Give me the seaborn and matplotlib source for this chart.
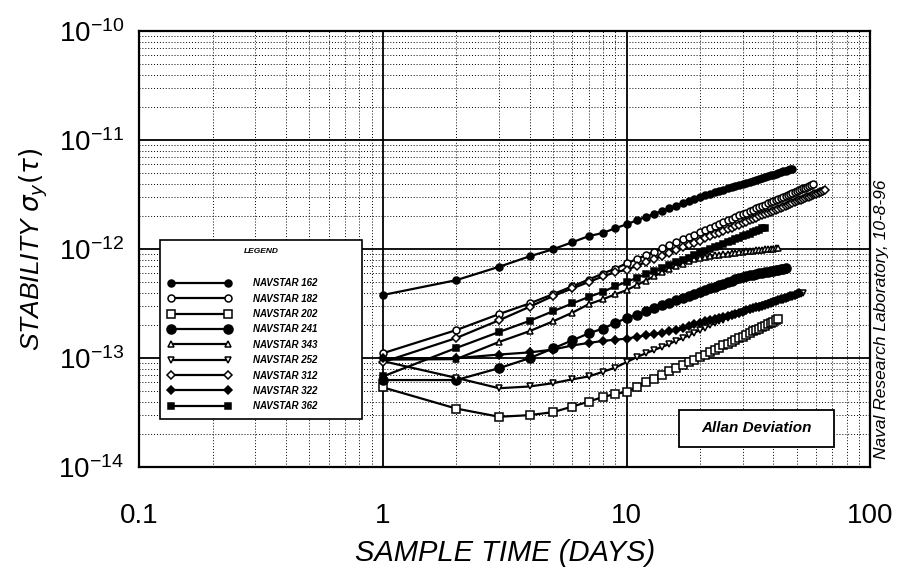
import matplotlib
matplotlib.use("Agg")
import matplotlib.pyplot as plt
from matplotlib.patches import Rectangle
import seaborn as sns
import numpy as np
from matplotlib.ticker import LogLocator, NullFormatter

# ------------------------ data (stability in units of 1e-13) ------------------------
sats = ["NAVSTAR 162", "NAVSTAR 182", "NAVSTAR 202", "NAVSTAR 241", "NAVSTAR 343",
        "NAVSTAR 252", "NAVSTAR 312", "NAVSTAR 322", "NAVSTAR 362"]

days_162 = list(range(1, 49))
stab_162 = [3.8, 5.2, 6.9, 8.6, 10.0, 11.6, 13.2, 14.1, 15.6, 16.9,
            18.4, 19.8, 21.1, 22.5, 23.8, 25.1, 26.4, 27.7, 29.0, 30.2,
            31.2, 32.2, 33.3, 34.2, 35.2, 36.1, 37.1, 38.0, 38.9, 39.8,
            40.7, 41.7, 42.6, 43.4, 44.3, 45.1, 46.0, 46.9, 47.6, 48.5,
            49.3, 50.1, 50.9, 51.8, 52.6, 53.5, 54.2, 55.0]

days_182 = list(range(1, 59))
stab_182 = [1.11, 1.81, 2.54, 3.18, 3.87, 4.57, 5.27, 5.98, 6.65, 7.41,
            8.11, 8.81, 9.51, 10.2, 10.9, 11.6, 12.3, 12.9, 13.6, 14.3,
            15.0, 15.7, 16.4, 17.0, 17.7, 18.4, 19.0, 19.7, 20.4, 21.0,
            21.7, 22.4, 23.1, 23.7, 24.4, 25.0, 25.7, 26.4, 27.0, 27.7,
            28.3, 29.0, 29.6, 30.3, 30.9, 31.6, 32.2, 32.9, 33.6, 34.2,
            34.9, 35.5, 36.1, 36.7, 37.4, 38.1, 38.7, 39.4]

days_202 = list(range(1, 43))
stab_202 = [0.54, 0.345, 0.29, 0.30, 0.32, 0.36, 0.40, 0.44, 0.47, 0.49,
            0.54, 0.60, 0.65, 0.70, 0.76, 0.81, 0.86, 0.92, 0.97, 1.03,
            1.08, 1.14, 1.19, 1.25, 1.31, 1.36, 1.42, 1.47, 1.53, 1.58,
            1.64, 1.70, 1.76, 1.81, 1.87, 1.93, 1.99, 2.05, 2.10, 2.16,
            2.22, 2.28]

days_241 = list(range(1, 46))
stab_241 = [0.63, 0.63, 0.81, 1.00, 1.23, 1.46, 1.69, 1.87, 2.11, 2.33,
            2.51, 2.69, 2.87, 3.05, 3.22, 3.39, 3.56, 3.72, 3.89, 4.06,
            4.22, 4.38, 4.54, 4.69, 4.84, 5.00, 5.15, 5.31, 5.46, 5.61,
            5.70, 5.78, 5.86, 5.93, 6.00, 6.07, 6.14, 6.21, 6.28, 6.35,
            6.41, 6.47, 6.53, 6.61, 6.67]

days_343 = list(range(1, 43))
stab_343 = [0.97, 0.98, 1.41, 1.77, 2.18, 2.62, 3.13, 3.47, 3.86, 4.21,
            4.68, 5.15, 5.65, 6.12, 6.58, 7.00, 7.38, 7.76, 8.09, 8.32,
            8.51, 8.67, 8.79, 8.91, 9.02, 9.12, 9.23, 9.33, 9.42, 9.51,
            9.57, 9.64, 9.70, 9.77, 9.84, 9.91, 9.98, 10.0, 10.1, 10.1,
            10.2, 10.2]

days_252 = list(range(1, 54))
stab_252 = [0.94, 0.66, 0.53, 0.55, 0.59, 0.64, 0.68, 0.75, 0.82, 0.92,
            1.02, 1.11, 1.19, 1.27, 1.35, 1.45, 1.53, 1.62, 1.72, 1.81,
            1.91, 2.00, 2.09, 2.18, 2.26, 2.34, 2.43, 2.50, 2.57, 2.64,
            2.71, 2.77, 2.84, 2.90, 2.96, 3.02, 3.08, 3.14, 3.20, 3.26,
            3.32, 3.37, 3.43, 3.48, 3.54, 3.60, 3.65, 3.70, 3.75, 3.80,
            3.85, 3.91, 3.96]

days_312 = list(range(1, 66))
stab_312 = [0.92, 1.53, 2.23, 2.96, 3.72, 4.37, 5.01, 5.62, 6.17, 6.46,
            7.03, 7.60, 8.18, 8.73, 9.29, 9.86, 10.4, 11.0, 11.5, 12.0,
            12.6, 13.1, 13.7, 14.2, 14.7, 15.3, 15.8, 16.3, 16.8, 17.3,
            17.9, 18.4, 18.9, 19.4, 20.0, 20.4, 20.9, 21.5, 22.0, 22.5,
            23.0, 23.5, 24.0, 24.5, 25.0, 25.5, 26.0, 26.5, 27.0, 27.5,
            28.0, 28.5, 29.0, 29.4, 29.9, 30.4, 30.9, 31.4, 31.9, 32.4,
            32.9, 33.3, 33.8, 34.3, 34.8]

days_322 = list(range(1, 52))
stab_322 = [1.00, 1.00, 1.08, 1.13, 1.20, 1.31, 1.38, 1.44, 1.48, 1.51,
            1.57, 1.62, 1.67, 1.71, 1.76, 1.83, 1.90, 1.97, 2.04, 2.12,
            2.19, 2.24, 2.29, 2.34, 2.39, 2.45, 2.50, 2.56, 2.62, 2.68,
            2.74, 2.80, 2.86, 2.92, 2.98, 3.04, 3.10, 3.16, 3.22, 3.28,
            3.34, 3.40, 3.46, 3.52, 3.57, 3.63, 3.69, 3.74, 3.80, 3.87,
            3.94]

days_362 = list(range(1, 38))
stab_362 = [0.68, 1.24, 1.74, 2.20, 2.70, 3.18, 3.65, 4.06, 4.58, 5.01,
            5.45, 5.89, 6.31, 6.73, 7.16, 7.59, 7.99, 8.39, 8.83, 9.23,
            9.62, 10.0, 10.4, 10.8, 11.2, 11.6, 12.0, 12.4, 12.8, 13.2,
            13.6, 13.9, 14.4, 14.7, 15.1, 15.5, 15.8]

x_ticks = [0.1, 1, 10, 100]
x_ticklabels = ["0.1", "1", "10", "100"]
y_ticks = [1e-14, 1e-13, 1e-12, 1e-11, 1e-10]

# ------------------------ style ------------------------
sns.set_style("white")
plt.rcParams["font.family"] = ["Liberation Sans", "DejaVu Sans"]
plt.rcParams["text.color"] = "black"
plt.rcParams["axes.labelcolor"] = "black"
plt.rcParams["xtick.color"] = "black"
plt.rcParams["ytick.color"] = "black"

series = [
    (days_162, stab_162, "o", "k", 5),
    (days_182, stab_182, "o", "white", 5),
    (days_202, stab_202, "s", "white", 6),
    (days_241, stab_241, "o", "k", 6.5),
    (days_343, stab_343, "^", "white", 5),
    (days_252, stab_252, "v", "white", 5),
    (days_312, stab_312, "D", "white", 4),
    (days_322, stab_322, "D", "k", 4),
    (days_362, stab_362, "s", "k", 5),
]

fig = plt.figure(figsize=(8.98, 5.69), dpi=100)
ax = fig.add_axes([0.155, 0.179, 0.814, 0.766])

for name, (d, s, m, fc, ms) in zip(sats, series):
    sns.lineplot(x=d, y=np.array(s) * 1e-13, ax=ax, color="k", lw=1.6,
                 marker=m, markersize=ms, markerfacecolor=fc,
                 markeredgecolor="k", markeredgewidth=1.1, label=name)

ax.set_xscale("log")
ax.set_yscale("log")
ax.set_xlim(0.1, 100)
ax.set_ylim(1e-14, 1e-10)

ax.set_xticks(x_ticks)
ax.set_xticklabels(x_ticklabels)
ax.set_yticks(y_ticks)
ax.xaxis.set_minor_locator(LogLocator(base=10, subs=np.arange(2, 10)))
ax.xaxis.set_minor_formatter(NullFormatter())
ax.yaxis.set_minor_locator(LogLocator(base=10, subs=np.arange(2, 10), numticks=20))
ax.yaxis.set_minor_formatter(NullFormatter())

ax.grid(True, which="major", color="k", lw=1.3, ls="-")
ax.grid(True, which="minor", color="k", lw=0.7, ls=(0, (1, 2)))
ax.set_axisbelow(True)
ax.tick_params(which="both", length=0, labelsize=20, labelcolor="black")
ax.tick_params(axis="x", pad=26)
ax.tick_params(axis="y", pad=11)
for sp in ax.spines.values():
    sp.set_color("k")
    sp.set_linewidth(1.6)

ax.set_xlabel("SAMPLE TIME (DAYS)", fontsize=21, style="italic", labelpad=7)
ax.set_ylabel(r"STABILITY $\sigma_y(\tau)$", fontsize=19, style="italic", labelpad=6)

leg = ax.legend(title="LEGEND", loc="upper left",
                bbox_to_anchor=(0.029, 0.15, 0.276, 0.371), mode="expand",
                prop=dict(weight="bold", style="italic", size=7),
                title_fontproperties=dict(weight="bold", style="italic", size=6),
                numpoints=2, handlelength=6.5, handletextpad=2.2, labelspacing=0.55,
                borderpad=0.8, borderaxespad=0, fancybox=False, framealpha=1,
                edgecolor="k")
leg.get_frame().set_linewidth(1.2)
leg._legend_box.sep = 17

# "Allan Deviation" box
ax.add_patch(Rectangle((0.739, 0.047), 0.212, 0.085, transform=ax.transAxes,
                       fc="white", ec="k", lw=1.3, zorder=5))
ax.text(0.845, 0.089, "Allan Deviation", transform=ax.transAxes, ha="center",
        va="center", fontsize=11, weight="bold", style="italic", zorder=6)

fig.text(0.982, 0.438, "Naval Research Laboratory, 10-8-96", rotation=90,
         ha="center", va="center", fontsize=12.5, style="italic")

plt.savefig("out.png", dpi=100)
